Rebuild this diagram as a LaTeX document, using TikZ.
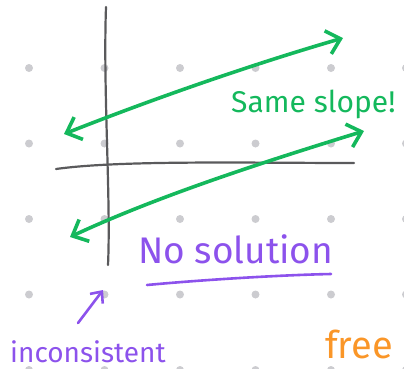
\documentclass[tikz,border=0pt]{standalone}
\usepackage{fontspec}
\setmainfont{Fira Sans}
\usetikzlibrary{arrows.meta}
\definecolor{ink}{RGB}{90,90,92}
\definecolor{grn}{RGB}{20,184,92}
\definecolor{pur}{RGB}{140,82,236}
\definecolor{org}{RGB}{250,150,40}
\definecolor{dotc}{RGB}{204,204,208}
\tikzset{
  axis/.style={draw=ink, line width=2.2pt, line cap=round},
  gline/.style={draw=grn, line width=3.6pt, line cap=round, line join=round,
     {Straight Barb[length=13pt,width=24pt,line width=3.6pt]}-{Straight Barb[length=13pt,width=24pt,line width=3.6pt]}},
  plabel/.style={text=pur, inner sep=0pt, anchor=base west},
  pline/.style={draw=pur, line width=2.6pt, line cap=round},
}
\begin{document}
\begin{tikzpicture}[x=1pt,y=-1pt]
\useasboundingbox (0,0) rectangle (404,368);
% dot grid
\foreach \i in {29,104.5,180,255.5,331,406}
  \foreach \j in {68,143.5,219,294.5,370}
    \fill[dotc] (\i,\j) circle (4pt);
% axes
\coordinate (vtop) at (106,7);
\coordinate (vbot) at (108,265);
\coordinate (hl) at (56,169);
\coordinate (hr) at (354,163);
\draw[axis] (vtop) .. controls (103,90) and (111,200) .. (vbot);
\draw[axis] (hl) .. controls (120,160) and (250,163) .. (hr);
% green lines
\coordinate (a1) at (64,134);
\coordinate (a2) at (343,38);
\coordinate (b1) at (70,237);
\coordinate (b2) at (364,131);
\draw[gline] (a1) .. controls (150,100) and (250,65) .. (a2);
\draw[gline] (b1) .. controls (160,195) and (270,160) .. (b2);
% labels
\node[text=grn, inner sep=0pt, anchor=base west, font=\fontsize{30}{30}\selectfont] (same) at (231,112) {Same slope!};
\node[plabel, font=\fontsize{37}{37}\selectfont] (nosol) at (138,263) {No solution};
\coordinate (u1) at (147,285);
\coordinate (u2) at (331,274);
\draw[pline] (u1) .. controls (200,280) and (280,275) .. (u2);
\node[plabel, font=\fontsize{28}{28}\selectfont] (incons) at (10,362) {inconsistent};
\coordinate (p1) at (78,323);
\coordinate (p2) at (103,290);
\draw[pline, -{Straight Barb[length=9pt,width=16pt,line width=2.6pt]}] (p1) -- (p2);
\node[text=org, inner sep=0pt, anchor=base west, font=\fontsize{38}{38}\selectfont] (free) at (325,358) {free};
\end{tikzpicture}
\end{document}
